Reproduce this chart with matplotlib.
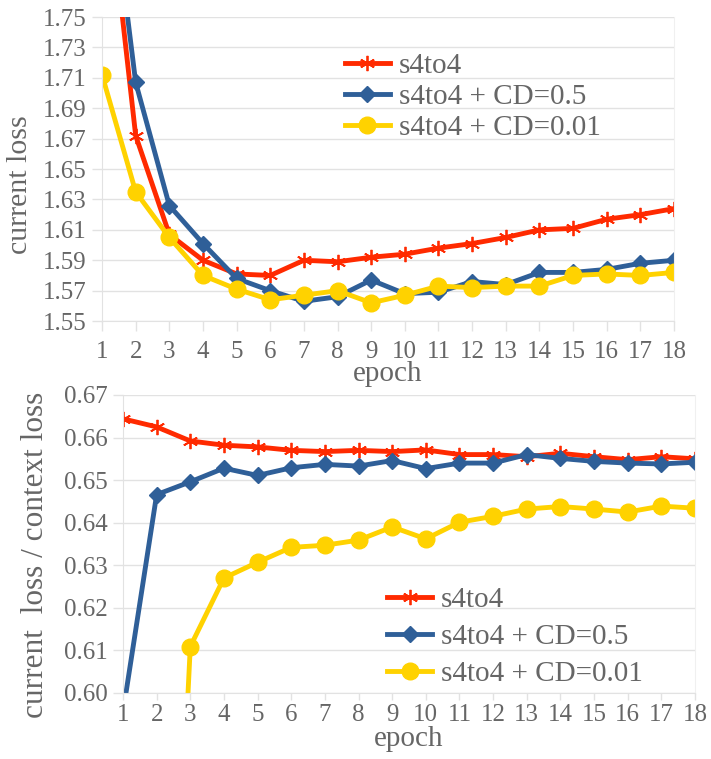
import numpy as np
import matplotlib.pyplot as plt

plt.rcParams['font.family'] = ['Liberation Serif', 'DejaVu Serif']

epochs = np.arange(1, 19)
labels = ["s4to4", "s4to4 + CD=0.5", "s4to4 + CD=0.01"]

# current loss (top panel)
loss_base = [1.870, 1.672, 1.607, 1.590, 1.581, 1.580, 1.590, 1.589, 1.592,
             1.594, 1.598, 1.601, 1.605, 1.610, 1.611, 1.617, 1.620, 1.624]
loss_cd05 = [1.886, 1.707, 1.626, 1.601, 1.578, 1.570, 1.563, 1.566, 1.577,
             1.568, 1.569, 1.576, 1.574, 1.582, 1.582, 1.584, 1.588, 1.590]
loss_cd001 = [1.712, 1.635, 1.605, 1.580, 1.571, 1.564, 1.567, 1.570, 1.562,
              1.567, 1.573, 1.572, 1.573, 1.573, 1.580, 1.581, 1.580, 1.582]

# current loss / context loss (bottom panel)
ratio_base = [0.6644, 0.6625, 0.6592, 0.6582, 0.6578, 0.6570, 0.6567, 0.6570, 0.6567,
              0.6571, 0.6560, 0.6560, 0.6555, 0.6563, 0.6555, 0.6548, 0.6555, 0.6550]
ratio_cd05 = [0.5955, 0.6466, 0.6496, 0.6528, 0.6511, 0.6529, 0.6537, 0.6533, 0.6546,
              0.6527, 0.6540, 0.6540, 0.6560, 0.6551, 0.6544, 0.6540, 0.6538, 0.6542]
ratio_cd001 = [0.40, 0.45, 0.6109, 0.6270, 0.6307, 0.6342, 0.6347, 0.6359, 0.6390,
               0.6362, 0.6401, 0.6415, 0.6432, 0.6438, 0.6432, 0.6425, 0.6439, 0.6434]

red, blue, yellow = '#ff2a00', '#2f5f98', '#ffd200'
grid_c = '#e2e2e2'
text_c = '#666666'

styles = [
    dict(color=red, marker=(6, 2, 0), markersize=11, markeredgewidth=1.3),
    dict(color=blue, marker='D', markersize=8),
    dict(color=yellow, marker='o', markersize=12),
]


def style_axes(ax, ylim, yticks, ylabel, yfmt, ylabel_size, label_xy, xpad, tpad, tlen):
    ax.set_xlim(1, 18)
    ax.set_ylim(*ylim)
    ax.set_xticks(epochs)
    ax.set_yticks(yticks)
    ax.set_yticklabels([yfmt.format(v) for v in yticks])
    ax.grid(axis='y', color=grid_c, lw=1)
    ax.set_axisbelow(True)
    ax.spines['top'].set_visible(False)
    for s in ['left', 'bottom']:
        ax.spines[s].set_color(grid_c)
    ax.spines['right'].set_color('#f0f0f0')
    ax.tick_params(axis='both', colors=grid_c, labelcolor=text_c, labelsize=18,
                   length=7, width=1)
    ax.tick_params(axis='x', pad=tpad, length=tlen)
    ax.tick_params(axis='y', pad=4)
    ax.set_xlabel("epoch", fontsize=21, color=text_c, labelpad=xpad)
    ax.set_ylabel(ylabel, fontsize=ylabel_size, color=text_c)
    ax.yaxis.set_label_coords(*label_xy)


fig = plt.figure(figsize=(7.11, 7.59), dpi=100)

ax1 = fig.add_axes([0.1435, 0.577, 0.8045, 0.4005])
for y, lab, st in zip([loss_base, loss_cd05, loss_cd001], labels, styles):
    ax1.plot(epochs, y, lw=3.5, label=lab, **st)
style_axes(ax1, (1.55, 1.75), np.arange(1.55, 1.751, 0.02), "current loss", "{:.2f}",
           21.5, (-0.12, 0.45), -1, 7, 7)
ax1.legend(loc='upper left', bbox_to_anchor=(0.399, 0.93), frameon=False, fontsize=21,
           labelcolor=text_c, handlelength=1.55, handletextpad=0.3, labelspacing=0.15,
           borderpad=0)

ax2 = fig.add_axes([0.173, 0.0870, 0.8045, 0.3926])
for y, lab, st in zip([ratio_base, ratio_cd05, ratio_cd001], labels, styles):
    ax2.plot(epochs, y, lw=3.5, label=lab, **st)
style_axes(ax2, (0.60, 0.67), np.arange(0.60, 0.6701, 0.01), "current  loss / context loss",
           "{:.2f}", 22.5, (-0.127, 0.462), 0, 3, 5)
ax2.legend(loc='upper left', bbox_to_anchor=(0.436, 0.405), frameon=False, fontsize=21,
           labelcolor=text_c, handlelength=1.55, handletextpad=0.3, labelspacing=0.36,
           borderpad=0)

fig.savefig("out.png", dpi=100)
